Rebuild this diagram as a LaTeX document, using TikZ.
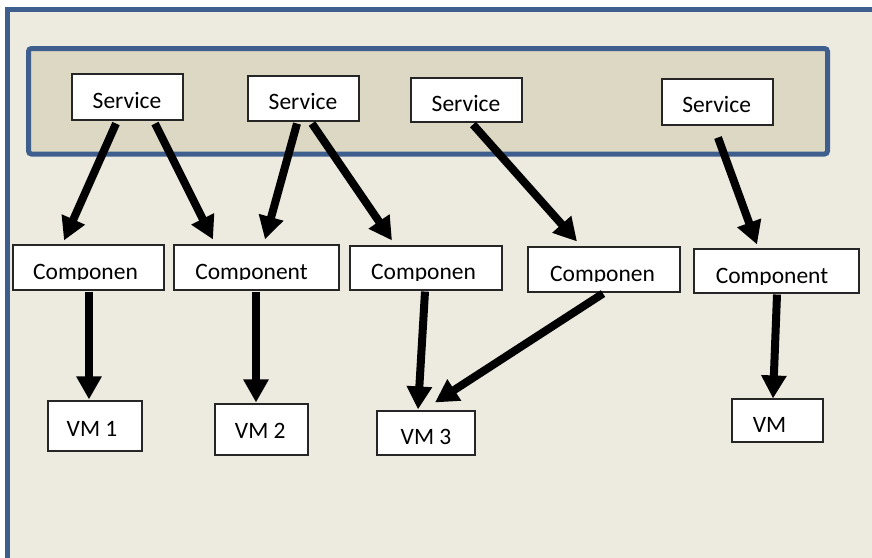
\documentclass[tikz,border=0pt]{standalone}
\usepackage{fontspec}
\setmainfont{Carlito}
\usetikzlibrary{arrows.meta,calc}
\definecolor{bgc}{HTML}{EDEAE0}
\definecolor{bandc}{HTML}{DDD8C3}
\definecolor{bluec}{HTML}{3E5F8E}
\newcommand\boxtext[3]{\smash{\makebox[0pt][c]{\hspace*{#1}\raisebox{#2}{#3}}}}
\begin{document}
\begin{tikzpicture}[x=1pt,y=-1pt,
  lblfont/.style={font=\fontsize{23.5}{28}\selectfont},
  box/.style={draw=black!85, line width=1.1pt, fill=white, inner sep=0pt, lblfont},
  txt/.style={anchor=base, inner sep=0pt, lblfont},
  arr/.style={line width=8pt, -{Triangle[length=23pt,width=24pt]}},
]
\useasboundingbox (0,0) rectangle (872,557);
\begin{scope}
  \clip (0,0) rectangle (872,557);
  \fill[white] (0,0) rectangle (872,557);
  \draw[bluec, line width=4.5pt, fill=bgc] (7.5,9.3) rectangle (900,600);
\end{scope}
\draw[bluec, line width=5pt, fill=bandc, rounded corners=3pt] (28.5,48.5) rectangle (827.5,154);

% services
\node[box, minimum width=111pt, minimum height=46pt] (s1) at (127.5,97) {\boxtext{-1pt}{-11pt}{Service}};
\node[box, minimum width=111pt, minimum height=45pt] (s2) at (303.5,98.5) {\boxtext{-1pt}{-11pt}{Service}};
\node[box, minimum width=111pt, minimum height=44pt] (s3) at (466.5,100) {\boxtext{-1pt}{-11pt}{Service}};
\node[box, minimum width=111pt, minimum height=46pt] (s4) at (717.5,102) {\boxtext{-1.6pt}{-10.7pt}{Service}};

% components
\node[box, minimum width=151pt, minimum height=45pt] (c1) at (88.5,267.5) {};
\node[box, minimum width=165pt, minimum height=45pt] (c2) at (256.5,267.5) {};
\node[box, minimum width=152pt, minimum height=44pt] (c3) at (426,268) {};
\node[box, minimum width=152pt, minimum height=45pt] (c4) at (604,269.5) {};
\node[box, minimum width=165pt, minimum height=44pt] (c5) at (776.5,271) {};
\begin{scope}
  \clip (c1.north west) rectangle (164,279.8);
  \node[txt] (t1) at (85.5,279) {Componen};
\end{scope}
\begin{scope}
  \clip (c2.north west) rectangle (339,279.8);
  \node[txt] (t2) at (251.5,279) {Component};
\end{scope}
\begin{scope}
  \clip (c3.north west) rectangle (502,280.1);
  \node[txt] (t3) at (423.5,279.3) {Componen};
\end{scope}
\begin{scope}
  \clip (c4.north west) rectangle (680,281.8);
  \node[txt] (t4) at (602.5,281) {Componen};
\end{scope}
\begin{scope}
  \clip (c5.north west) rectangle (859,284.1);
  \node[txt] (t5) at (772,283.3) {Component};
\end{scope}

% VMs
\node[box, minimum width=94pt, minimum height=50pt] (vm1) at (95,426) {\boxtext{-6pt}{-10pt}{VM 1}};
\node[box, minimum width=93pt, minimum height=51pt] (vm2) at (261.5,429.5) {\boxtext{-2.4pt}{-8.8pt}{VM 2}};
\node[box, minimum width=98pt, minimum height=44pt] (vm3) at (426,433) {\boxtext{0pt}{-11pt}{VM 3}};
\node[box, minimum width=91pt, minimum height=43pt] (vm4) at (777.5,420.5) {\boxtext{-16pt}{-12.2pt}{VM}};

% arrows service -> component
\draw[arr] ($(s1.south)+(-11.5,3)$) -- ($(c1.north)+(-24.5,-4)$);
\draw[arr] ($(s1.south)+(27.5,3)$) -- ($(c2.north)+(-43.5,-5)$);
\draw[arr] ($(s2.south)+(-6.5,2)$) -- ($(c2.north)+(8.5,-5)$);
\draw[arr] ($(s2.south)+(8.5,2)$) -- ($(c3.north)+(-34,-5)$);
\draw[arr] ($(s3.south)+(6.5,2)$) -- ($(c4.north)+(-27,-5)$);
\draw[arr] ($(s4.south)+(0.5,12)$) -- ($(c5.north)+(-19.5,-4)$);

% arrows component -> VM
\draw[arr] ($(c1.south)+(0.5,1)$) -- ($(vm1.north)+(-6,-1)$);
\draw[arr] ($(c2.south)+(-0.5,1)$) -- ($(vm2.north)+(-5.5,-1)$);
\draw[arr] ($(c3.south)+(-1,1)$) -- ($(vm3.north)+(-8,-1)$);
\draw[arr] ($(c4.south)+(-1,1)$) -- ($(vm3.north)+(9,-8)$);
\draw[arr] ($(c5.south)+(0.5,1)$) -- ($(vm4.north)+(-4.5,0)$);
\end{tikzpicture}
\end{document}
